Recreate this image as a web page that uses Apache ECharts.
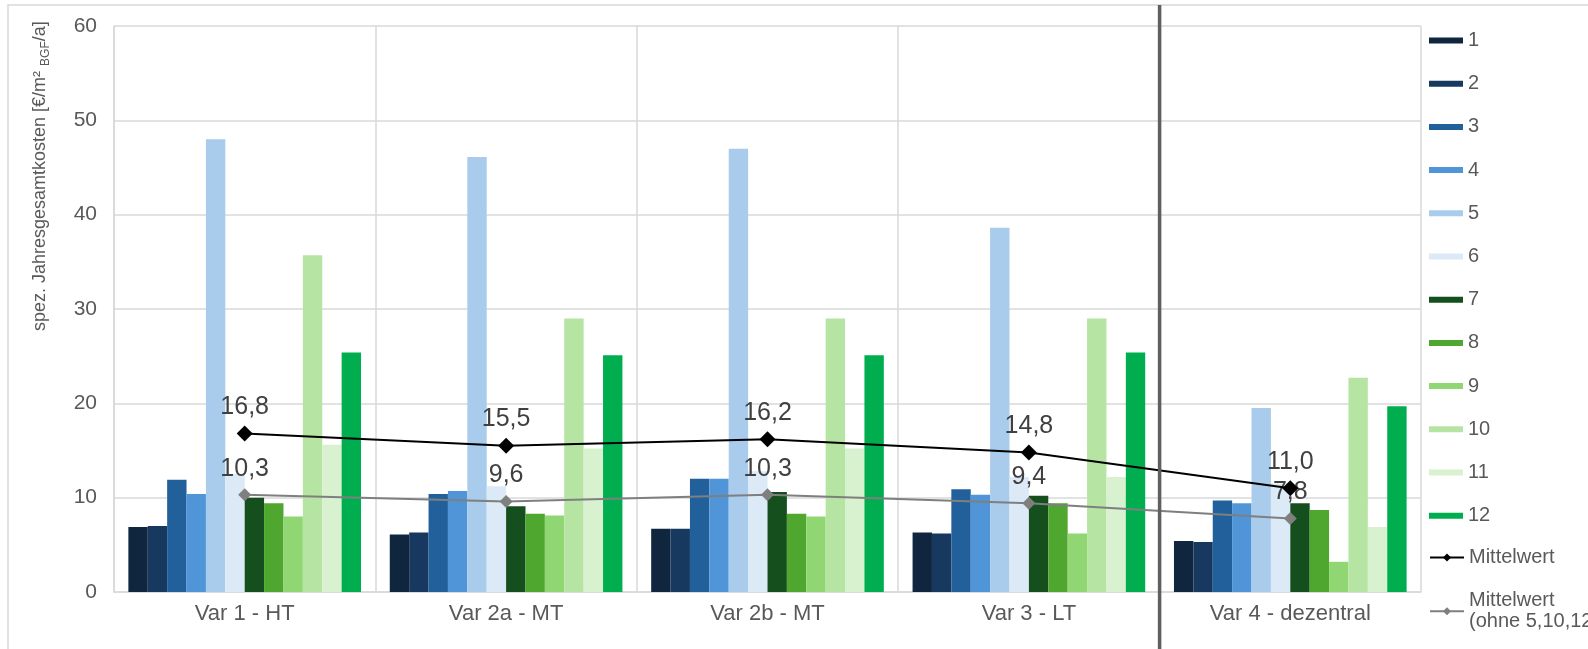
<!DOCTYPE html>
<html>
<head>
<meta charset="utf-8">
<script src="https://cdn.jsdelivr.net/npm/echarts@6/dist/echarts.min.js"></script>
<style>
html,body{margin:0;padding:0;background:#fff;}
#main{width:1588px;height:649px;}
</style>
</head>
<body>
<div id="main"></div>
<script>
const categories = ['Var 1 - HT', 'Var 2a - MT', 'Var 2b - MT', 'Var 3 - LT', 'Var 4 - dezentral'];
const seriesNames = ['1','2','3','4','5','6','7','8','9','10','11','12'];
const s1  = [6.9, 6.1, 6.7, 6.3, 5.4];
const s2  = [7.0, 6.3, 6.7, 6.2, 5.3];
const s3  = [11.9, 10.4, 12.0, 10.9, 9.7];
const s4  = [10.4, 10.7, 12.0, 10.3, 9.4];
const s5  = [48.0, 46.1, 47.0, 38.6, 19.5];
const s6  = [12.5, 11.2, 12.8, 12.2, 11.5];
const s7  = [10.0, 9.1, 10.6, 10.2, 9.4];
const s8  = [9.4, 8.3, 8.3, 9.4, 8.7];
const s9  = [8.0, 8.1, 8.0, 6.2, 3.2];
const s10 = [35.7, 29.0, 29.0, 29.0, 22.7];
const s11 = [15.6, 15.2, 15.2, 12.2, 6.9];
const s12 = [25.4, 25.1, 25.1, 25.4, 19.7];
const mittelwert = [16.8, 15.5, 16.2, 14.8, 11.0];
const mittelwertOhne = [10.3, 9.6, 10.3, 9.4, 7.8];
const yTicks = [0, 10, 20, 30, 40, 50, 60];

const barData = [s1,s2,s3,s4,s5,s6,s7,s8,s9,s10,s11,s12];
const barColors = ['#10263F','#18395F','#22609C','#5095D8','#A9CBEC','#DCE9F6',
                   '#154F1D','#4FA72F','#90D773','#B6E5A3','#D8F1CF','#00AE4F'];
const FONT = '"Liberation Sans", Arial, sans-serif';
const fmt = v => v.toFixed(1).replace('.', ',');

const chart = echarts.init(document.getElementById('main'), null, {renderer:'canvas'});

const series = barData.map((d, i) => ({
  name: seriesNames[i],
  type: 'bar',
  data: d,
  barGap: '0%',
  barCategoryGap: '11%',
  itemStyle: {color: barColors[i]},
  z: 2
}));
series.push({
  name: 'Mittelwert',
  type: 'line',
  data: mittelwert,
  symbol: 'diamond',
  symbolSize: 16,
  lineStyle: {color: '#000000', width: 2},
  itemStyle: {color: '#000000'},
  label: {show: true, position: 'top', distance: 6, formatter: p => fmt(p.value),
          color: '#404040', fontSize: 25, fontFamily: FONT},
  z: 5
});
series.push({
  name: 'Mittelwert\n(ohne 5,10,12)',
  type: 'line',
  data: mittelwertOhne,
  symbol: 'diamond',
  symbolSize: 13,
  lineStyle: {color: '#7F7F7F', width: 2},
  itemStyle: {color: '#7F7F7F'},
  label: {show: true, position: 'top', distance: 7, formatter: p => fmt(p.value),
          color: '#404040', fontSize: 25, fontFamily: FONT},
  z: 4
});

const legendText = {color: '#595959', fontSize: 20, lineHeight: 21, fontFamily: FONT};
const option = {
  animation: false,
  backgroundColor: '#ffffff',
  textStyle: {fontFamily: FONT},
  grid: {left: 114, right: 167, top: 26, bottom: 57, containLabel: false},
  legend: [{
    data: seriesNames.map(n => ({name: n, icon: 'rect'})),
    orient: 'vertical',
    left: 1424, top: 25,
    itemWidth: 34, itemHeight: 6, itemGap: 22.2,
    textStyle: legendText,
    selectedMode: false
  }, {
    data: ['Mittelwert', 'Mittelwert\n(ohne 5,10,12)'],
    orient: 'vertical',
    left: 1424, top: 542,
    itemWidth: 34, itemHeight: 10, itemGap: 22.2,
    textStyle: legendText,
    selectedMode: false
  }],
  xAxis: {
    type: 'category',
    data: categories,
    axisLine: {show: true, lineStyle: {color: '#D9D9D9', width: 1.5}},
    axisTick: {show: false},
    splitLine: {show: true, lineStyle: {color: '#D9D9D9', width: 1.5}},
    axisLabel: {color: '#595959', fontSize: 22, margin: 11, fontFamily: FONT}
  },
  yAxis: {
    type: 'value',
    min: yTicks[0], max: yTicks[yTicks.length - 1], interval: 10,
    axisLine: {show: true, lineStyle: {color: '#D9D9D9', width: 1.5}},
    axisTick: {show: false},
    splitLine: {show: true, lineStyle: {color: '#D9D9D9', width: 1.5}},
    axisLabel: {color: '#595959', fontSize: 21, margin: 17, fontFamily: FONT}
  },
  series: series
};
chart.setOption(option);

const x3 = chart.convertToPixel({xAxisIndex: 0}, categories[3]);
const x4 = chart.convertToPixel({xAxisIndex: 0}, categories[4]);
const sepX = (x3 + x4) / 2;
chart.setOption({
  graphic: [
    {type: 'rect', shape: {x: 8, y: 5, width: 1700, height: 700},
     style: {fill: null, stroke: '#D9D9D9', lineWidth: 1.5}, silent: true, z: 0},
    {type: 'line', shape: {x1: sepX, y1: 5, x2: sepX, y2: 649},
     style: {stroke: '#5F5F5F', lineWidth: 3.5}, silent: true, z: 100},
    {type: 'text', x: 40, y: 331, rotation: Math.PI / 2, z: 100,
     style: {
       text: 'spez. Jahresgesamtkosten [€/m² {sub|BGF}/a]',
       fill: '#595959', fontSize: 18, fontFamily: FONT,
       align: 'left', verticalAlign: 'middle', lineHeight: 24,
       rich: {sub: {fontSize: 12, fill: '#595959', fontFamily: FONT, verticalAlign: 'bottom', lineHeight: 24, padding: [6, 0, 0, 0]}}
     }}
  ]
});
</script>
</body>
</html>
